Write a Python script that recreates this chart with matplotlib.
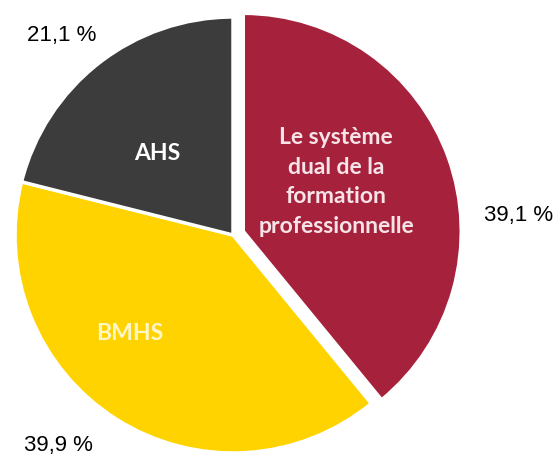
import matplotlib
matplotlib.use('Agg')
import matplotlib.pyplot as plt

# shares (order clockwise from 12 o'clock)
categories = ['Le système\ndual de la\nformation\nprofessionnelle', 'BMHS', 'AHS']
shares = [39.1, 39.9, 21.1]
pct_labels = ['39,1 %', '39,9 %', '21,1 %']
colors = ['#A6223C', '#FFD300', '#3C3C3C']
text_colors = ['#F7E4E8', '#FFF6C8', '#FFFFFF']
explode = [0.05, 0, 0]

W, H = 553, 459
R = 218.0          # pie radius in pixels
cx, cy = 233, 235  # pie centre in pixels (from top)

fig = plt.figure(figsize=(W / 100, H / 100), dpi=100)
ax = fig.add_axes([0, 0, 1, 1])

wedges, _ = ax.pie(shares, colors=colors, explode=explode, startangle=90,
                   counterclock=False, radius=1,
                   wedgeprops=dict(edgecolor='white', linewidth=2.5))

ax.set_xlim(-cx / R, (W - cx) / R)
ax.set_ylim(-(H - cy) / R, cy / R)
ax.set_aspect('auto')
ax.axis('off')


def px(x, y):
    # pixel position (from top-left) -> data coords
    return (x - cx) / R, (cy - y) / R


# labels inside the slices
inner_pos = [(336, 182), (130, 333), (157, 153)]
inner_size = [16.5, 16.5, 16.5]
for lab, (x, y), c, s in zip(categories, inner_pos, text_colors, inner_size):
    ax.text(*px(x, y), lab, ha='center', va='center', color=c, fontsize=s,
            fontweight='bold', family='Lato', linespacing=1.5)

# percentage labels outside
outer_pos = [(519, 215), (58, 445), (62, 35)]
for lab, (x, y) in zip(pct_labels, outer_pos):
    ax.text(*px(x, y), lab, ha='center', va='center', color='black',
            fontsize=16, family='Liberation Sans')

plt.savefig('out.png', dpi=100)
